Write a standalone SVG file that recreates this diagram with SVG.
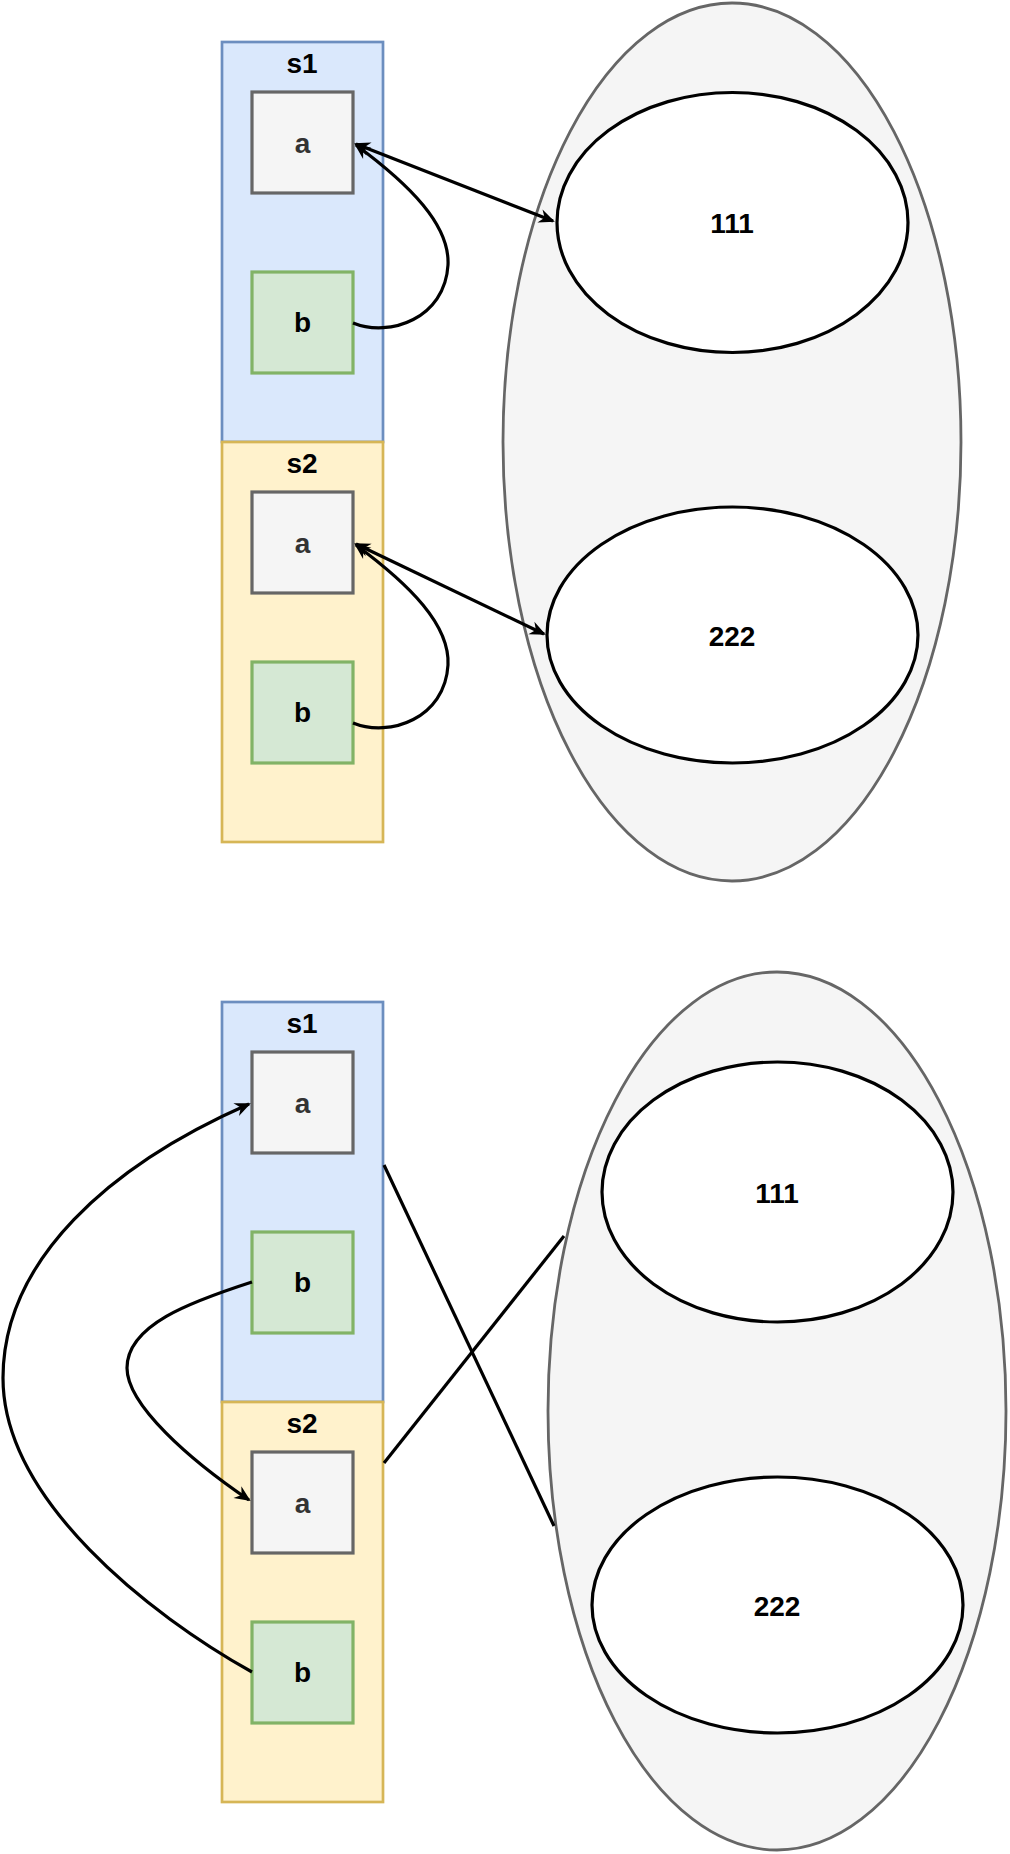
<svg xmlns="http://www.w3.org/2000/svg" width="1010" height="1854" viewBox="0 0 1010 1854">
<style>
.s1{fill:#dae8fc;stroke:#6c8ebf;stroke-width:2.7}
.s2{fill:#fff2cc;stroke:#d6b656;stroke-width:2.7}
.a{fill:#f5f5f5;stroke:#666666;stroke-width:3.2}
.b{fill:#d5e8d4;stroke:#82b366;stroke-width:3.2}
.outer{fill:#f5f5f5;stroke:#666666;stroke-width:2.8}
.inner{fill:#ffffff;stroke:#000000;stroke-width:3.2}
text{font-family:"Liberation Sans",Arial,Helvetica,sans-serif;font-weight:bold;text-anchor:middle}
.lbl{font-size:28px;fill:#000}
.ta{font-size:28px;fill:#333333}
.tb{font-size:28px;fill:#000}
.edge{fill:none;stroke:#000;stroke-width:3.2}
</style>
<defs>
<marker id="arr" viewBox="-15 -8 18 16" refX="0" refY="0" markerWidth="18" markerHeight="16" orient="auto-start-reverse" markerUnits="userSpaceOnUse">
<path d="M2,0 L-14,-7 L-9,0 L-14,7 Z" fill="#000"/>
</marker>
</defs>

<!-- top right group -->
<g id="top-pool"><ellipse class="outer" cx="732" cy="442" rx="229" ry="439"/></g>
<g id="top-111"><ellipse class="inner" cx="732.5" cy="222.5" rx="175.5" ry="130"/><text class="tb" x="732" y="233">111</text></g>
<g id="top-222"><ellipse class="inner" cx="732.5" cy="635" rx="185.5" ry="128"/><text class="tb" x="732" y="646">222</text></g>

<!-- top left -->
<g id="top-s1"><rect class="s1" x="222" y="42" width="161" height="400"/><text class="lbl" x="302" y="73">s1</text></g>
<g id="top-s2"><rect class="s2" x="222" y="442" width="161" height="400"/><text class="lbl" x="302" y="473">s2</text></g>
<g id="top-s1-a"><rect class="a" x="252" y="92" width="101" height="101"/><text class="ta" x="302.5" y="153">a</text></g>
<g id="top-s1-b"><rect class="b" x="252" y="272" width="101" height="101"/><text class="tb" x="302.5" y="332">b</text></g>
<g id="top-s2-a"><rect class="a" x="252" y="492" width="101" height="101"/><text class="ta" x="302.5" y="553">a</text></g>
<g id="top-s2-b"><rect class="b" x="252" y="662" width="101" height="101"/><text class="tb" x="302.5" y="722">b</text></g>

<!-- bottom right group -->
<g id="bot-pool"><ellipse class="outer" cx="777" cy="1411" rx="229" ry="439"/></g>
<g id="bot-111"><ellipse class="inner" cx="777.5" cy="1192" rx="175.5" ry="130"/><text class="tb" x="777" y="1203">111</text></g>
<g id="bot-222"><ellipse class="inner" cx="777.5" cy="1605" rx="185.5" ry="128"/><text class="tb" x="777" y="1616">222</text></g>

<!-- bottom left -->
<g id="bot-s1"><rect class="s1" x="222" y="1002" width="161" height="400"/><text class="lbl" x="302" y="1033">s1</text></g>
<g id="bot-s2"><rect class="s2" x="222" y="1402" width="161" height="400"/><text class="lbl" x="302" y="1433">s2</text></g>
<g id="bot-s1-a"><rect class="a" x="252" y="1052" width="101" height="101"/><text class="ta" x="302.5" y="1113">a</text></g>
<g id="bot-s1-b"><rect class="b" x="252" y="1232" width="101" height="101"/><text class="tb" x="302.5" y="1292">b</text></g>
<g id="bot-s2-a"><rect class="a" x="252" y="1452" width="101" height="101"/><text class="ta" x="302.5" y="1513">a</text></g>
<g id="bot-s2-b"><rect class="b" x="252" y="1622" width="101" height="101"/><text class="tb" x="302.5" y="1682">b</text></g>

<g id="connectors">
<path class="edge" d="M356,144 L553,221" marker-start="url(#arr)" marker-end="url(#arr)"/>
<path class="edge" d="M353,323 C390,338 445,318 448,265 C450,225 410,185 356,145" marker-end="url(#arr)"/>
<path class="edge" d="M356,544 L544,634" marker-start="url(#arr)" marker-end="url(#arr)"/>
<path class="edge" d="M353,723 C390,738 445,718 448,665 C450,625 410,585 356,545" marker-end="url(#arr)"/>
<path class="edge" d="M252,1282 C190,1302 127,1325 127,1368 C127,1405 190,1460 249,1500" marker-end="url(#arr)"/>
<path class="edge" d="M252,1672 C150,1615 3,1500 3,1378 C3,1260 110,1165 249,1104" marker-end="url(#arr)"/>
<path class="edge" d="M384,1165 L554,1526"/>
<path class="edge" d="M384,1463 L564,1236"/>
</g>
</svg>
